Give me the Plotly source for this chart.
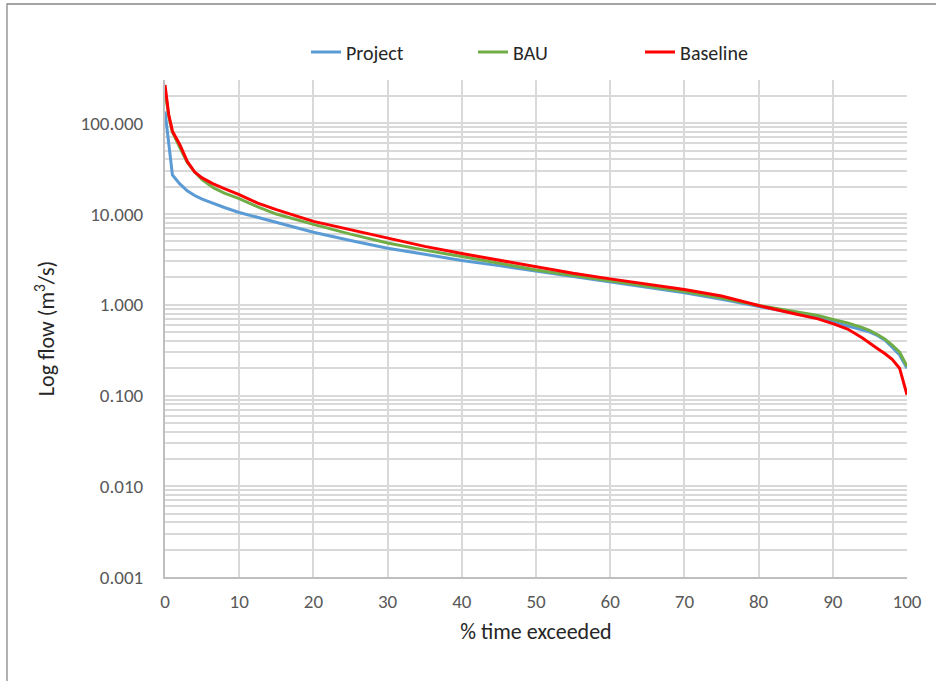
import plotly.graph_objects as go

# % time exceeded (shared x for all series)
pct_exceeded = [0, 0.5, 1, 1.5, 2, 3, 4, 5, 6.5, 8, 10, 12.5, 15, 20, 25, 30, 35, 40,
                45, 50, 55, 60, 65, 70, 75, 80, 85, 88, 90, 92, 94, 95, 96, 97, 98, 99, 100]

project = [135, 65, 27, 24, 21.5, 18, 16, 14.6, 13, 11.8, 10.4, 9.2, 8.1, 6.3, 5.1, 4.2, 3.6, 3.08,
           2.7, 2.35, 2.05, 1.78, 1.56, 1.36, 1.15, 0.95, 0.80, 0.72, 0.65, 0.59, 0.53, 0.50, 0.46,
           0.41, 0.34, 0.28, 0.20]
bau = [230, 120, 80, 65, 54, 37, 29, 24, 19.5, 17, 14.8, 12, 10, 7.7, 6.0, 4.8, 4.0, 3.4,
       2.85, 2.42, 2.1, 1.83, 1.6, 1.4, 1.19, 0.98, 0.84, 0.76, 0.69, 0.63, 0.56, 0.52, 0.47,
       0.42, 0.36, 0.30, 0.21]
baseline = [265, 125, 82, 68, 58, 38, 29, 25, 21.5, 19, 16.4, 13.2, 11.2, 8.3, 6.7, 5.4, 4.4, 3.67,
            3.1, 2.6, 2.22, 1.93, 1.7, 1.47, 1.25, 0.98, 0.79, 0.70, 0.62, 0.54, 0.43, 0.38, 0.33,
            0.29, 0.25, 0.20, 0.102]

FONT = "Carlito, Calibri, Lato, sans-serif"
GRID = "#D9D9D9"

fig = go.Figure()
for name, ys, color in [("Project", project, "#5B9BD5"),
                        ("BAU", bau, "#70AD47"),
                        ("Baseline", baseline, "#FF0000")]:
    fig.add_trace(go.Scatter(x=pct_exceeded, y=ys, mode="lines", name=name,
                             line=dict(color=color, width=3)))

fig.update_layout(
    width=936, height=681,
    margin=dict(l=165, r=29, t=80, b=104),
    paper_bgcolor="white", plot_bgcolor="white",
    font=dict(family=FONT, size=19, color="#595959"),
    legend=dict(orientation="h", x=(306 - 165) / 742, xanchor="left",
                y=(577 - 52) / 497, yanchor="middle",
                font=dict(size=20, color="#262626"),
                entrywidth=122, entrywidthmode="pixels"),
    shapes=[dict(type="rect", xref="paper", yref="paper",
                 x0=(7 - 165) / 742, x1=1.2, y0=-0.3, y1=(577 - 4) / 497,
                 line=dict(color="#878787", width=1.3), layer="below")],
)
fig.update_xaxes(
    range=[0, 100], dtick=10, showgrid=True, gridcolor=GRID, gridwidth=2,
    showline=True, linecolor="#BFBFBF", linewidth=2, zeroline=False,
    ticks="", ticklabelstandoff=6, tickfont=dict(size=19, color="#595959"),
    title=dict(text="% time exceeded", font=dict(size=22, color="#262626"), standoff=12),
)
fig.update_yaxes(
    type="log", range=[-3, 2.477], dtick=1, tickformat=".3f",
    showgrid=True, gridcolor=GRID, gridwidth=2,
    minor=dict(dtick="D1", showgrid=True, gridcolor=GRID, gridwidth=1.5, ticks=""),
    showline=True, linecolor="#BFBFBF", linewidth=2, zeroline=False,
    ticks="", ticklabelstandoff=16, tickfont=dict(size=19, color="#595959"),
    title=dict(text="Log flow (m<sup>3</sup>/s)", font=dict(size=22, color="#262626"), standoff=20),
)

fig.write_html("out.html", config={"displayModeBar": False},
               post_script="document.body.style.margin='0';")
